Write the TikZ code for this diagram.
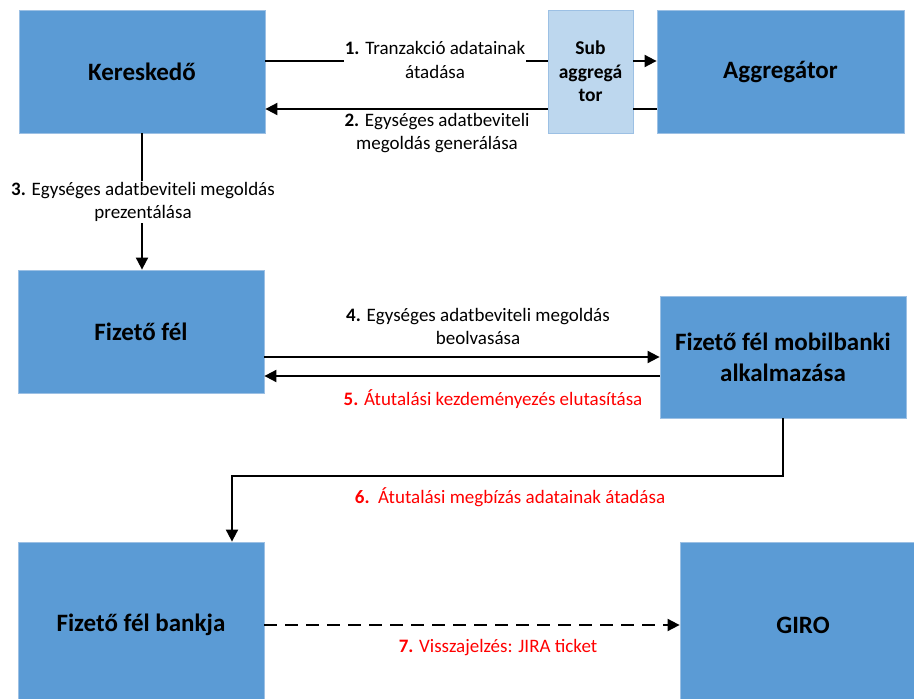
\documentclass[tikz,border=0pt]{standalone}
\usepackage{fontspec}
\setmainfont{Carlito}
\usetikzlibrary{arrows.meta}
\definecolor{boxblue}{HTML}{5B9BD5}
\definecolor{boxedge}{HTML}{9CC0E4}
\definecolor{subblue}{HTML}{BDD7EE}
\definecolor{labred}{HTML}{FF0000}
\begin{document}
\begin{tikzpicture}[x=1pt,y=-1pt,
  entity/.style={draw=boxedge,line width=0.8pt,fill=boxblue,minimum width=246pt,minimum height=123pt,
    align=center,font=\fontsize{25}{31}\selectfont\bfseries,inner sep=0pt},
  subentity/.style={entity,fill=subblue,minimum width=85pt,font=\fontsize{19.5}{23.5}\selectfont\bfseries},
  flowlabel/.style={align=center,font=\fontsize{19}{23.5}\selectfont,inner sep=1pt},
  whitelabel/.style={flowlabel,fill=white},
  redlabel/.style={flowlabel,text=labred},
  conn/.style={line width=1.9pt},
  arr/.style={conn,-{Triangle[length=12pt,width=12pt]}},
  dasharr/.style={arr,dash pattern=on 13pt off 8pt}]
\useasboundingbox (0,0) rectangle (914,699);
\clip (0,0) rectangle (914,699);

% boxes
\node[entity] (ker) at (142,71.5) {Kereskedő};
\node[subentity] (sub) at (590.5,71.5) {Sub\\aggregá\\tor};
\node[entity,minimum width=247pt] (agg) at (780.5,71.5) {Aggregátor};
\node[entity] (fiz) at (141,331.5) {Fizető fél};
\node[entity,minimum height=122pt] (mob) at (783,357) {Fizető fél mobilbanki\\alkalmazása};
\node[entity,minimum height=166pt] (bank) at (141,625) {Fizető fél bankja};
\node[entity,minimum height=166pt] (giro) at (803,625) {GIRO};

% 1: merchant -> aggregator through the sub-aggregator
\draw[conn] ([yshift=10.5pt]ker.east) -- ([yshift=10.5pt]sub.west);
\draw[arr] ([yshift=10.5pt]sub.east) -- ([yshift=10.5pt]agg.west);
\node[whitelabel] (l1) at (435,60) {\textbf{1.} Tranzakció adatainak\\átadása};

% 2: aggregator -> merchant through the sub-aggregator
\draw[conn] ([yshift=-37.5pt]agg.west) -- ([yshift=-37.5pt]sub.east);
\draw[arr] ([yshift=-37.5pt]sub.west) -- ([yshift=-37.5pt]ker.east);
\node[flowlabel] (l2) at (437,133) {\textbf{2.} Egységes adatbeviteli\\megoldás generálása};

% 3: merchant -> payer
\draw[arr] (ker.south) -- (ker.south |- fiz.north);
\node[whitelabel] (l3) at (143,202) {\textbf{3.} Egységes adatbeviteli megoldás\\prezentálása};

% 4 and 5: payer <-> mobile banking app
\draw[arr] ([yshift=-25.5pt]fiz.east) -- (mob.west);
\node[flowlabel] (l4) at (478,326.5) {\textbf{4.} Egységes adatbeviteli megoldás\\beolvasása};
\draw[arr] ([yshift=-19pt]mob.west) -- ([yshift=-44.5pt]fiz.east);
\node[redlabel] (l5) at (493,399) {\textbf{5.} Átutalási kezdeményezés elutasítása};

% 6: mobile banking app -> payer's bank
\coordinate (c6a) at (783,476);
\coordinate (c6b) at (232,476);
\draw[arr] (mob.south) -- (c6a) -- (c6b) -- ([xshift=91pt]bank.north);
\node[redlabel] (l6) at (510,497) {\textbf{6.}\ \ Átutalási megbízás adatainak átadása};

% 7: payer's bank -> GIRO
\draw[dasharr] (bank.east) -- (giro.west);
\node[redlabel] (l7) at (498,648) {\textbf{7.} Visszajelzés: JIRA ticket};
\end{tikzpicture}
\end{document}
